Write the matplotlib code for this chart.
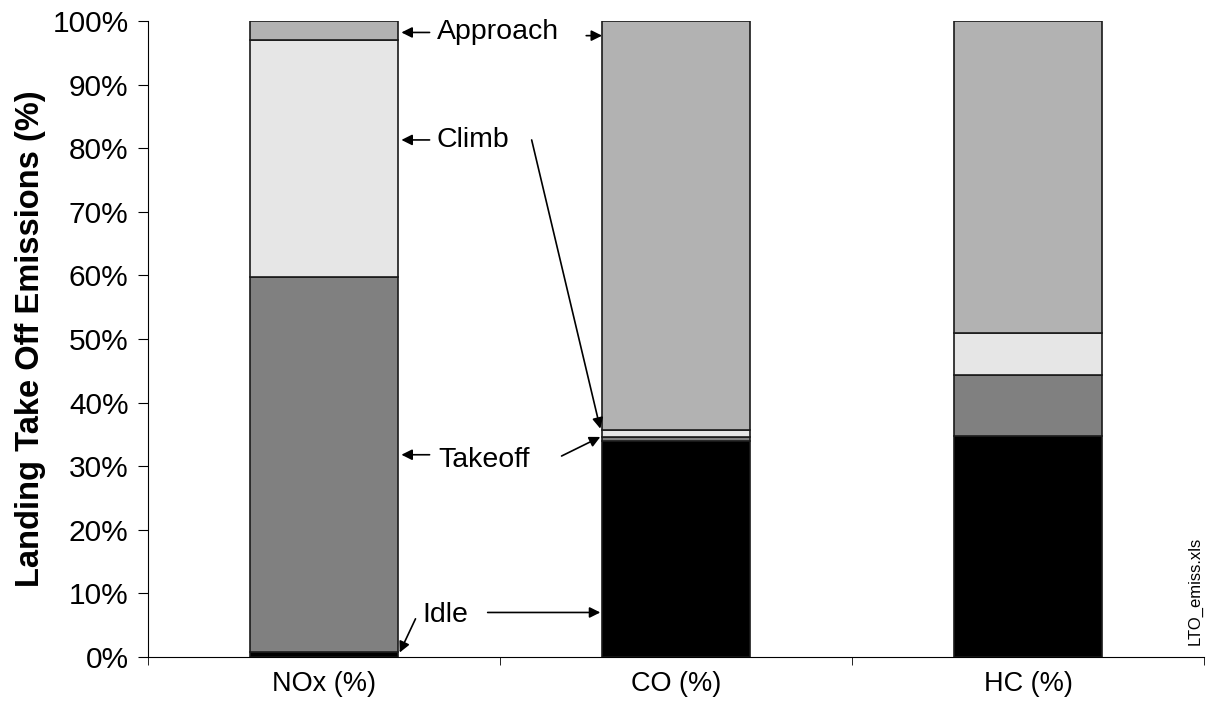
import matplotlib
matplotlib.use("Agg")
import matplotlib.pyplot as plt
import numpy as np

plt.rcParams['font.family'] = ['Liberation Sans', 'DejaVu Sans']

categories = ["NOx (%)", "CO (%)", "HC (%)"]
modes = ["Idle", "Takeoff", "Climb", "Approach"]
idle = [0.8, 34.0, 34.7]
takeoff = [58.9, 0.6, 9.6]
climb = [37.3, 1.1, 6.7]
approach = [3.0, 64.3, 49.0]
colors = ["#000000", "#808080", "#e6e6e6", "#b2b2b2"]
yticks = np.arange(0, 101, 10)

fig = plt.figure(figsize=(12.07, 7.17), dpi=100)
ax = fig.add_axes([0.1226, 0.0837, 0.8749, 0.887])

x = np.arange(len(categories))
bottom = np.zeros(len(categories))
for vals, c in zip([idle, takeoff, climb, approach], colors):
    ax.bar(x, vals, width=0.42, bottom=bottom, color=c, edgecolor="#1a1a1a", linewidth=1.2)
    bottom += np.array(vals)

ax.set_xlim(-0.5, 2.5)
ax.set_ylim(0, 100)
ax.set_yticks(yticks)
ax.set_yticklabels([f"{v}%" for v in yticks], fontsize=21.5)
ax.set_xticks(x)
ax.set_xticklabels(categories, fontsize=19.5)
ax.set_xticks([-0.5, 0.5, 1.5, 2.5], minor=True)
ax.tick_params(axis='x', which='major', length=0, pad=10)
ax.tick_params(axis='x', which='minor', length=6, direction='out')
ax.tick_params(axis='y', length=7, direction='out', pad=7)
ax.spines['top'].set_visible(False)
ax.spines['right'].set_visible(False)
ax.set_ylabel("Landing Take Off Emissions (%)", fontsize=23.5, fontweight='bold')
ax.yaxis.set_label_coords(-0.097, 0.5)

arrow = dict(arrowstyle="-|>", color="black", lw=1.2, mutation_scale=16, shrinkA=0, shrinkB=0)
xr = 0.21  # bar half width
# labels with arrows to NOx bar
ax.annotate("", xy=(xr + 0.01, 98.2), xytext=(0.3, 98.2), arrowprops=arrow)
ax.text(0.32, 98.2, "Approach", fontsize=20.5, va='center')
ax.annotate("", xy=(1 - xr, 97.7), xytext=(0.955 - xr, 97.7), arrowprops=arrow)

ax.annotate("", xy=(xr + 0.01, 81.3), xytext=(0.3, 81.3), arrowprops=arrow)
ax.text(0.32, 81.3, "Climb", fontsize=20.5, va='center')
ax.annotate("", xy=(1 - xr - 0.005, 35.9), xytext=(0.59, 81.3), arrowprops=arrow)

ax.annotate("", xy=(xr + 0.01, 31.8), xytext=(0.3, 31.8), arrowprops=arrow)
ax.text(0.325, 31.0, "Takeoff", fontsize=20.5, va='center')
ax.annotate("", xy=(1 - xr - 0.005, 34.6), xytext=(0.675, 31.6), arrowprops=arrow)

ax.annotate("", xy=(xr + 0.005, 0.7), xytext=(0.26, 6.0), arrowprops=arrow)
ax.text(0.28, 6.6, "Idle", fontsize=20.5, va='center')
ax.annotate("", xy=(1 - xr - 0.005, 7.0), xytext=(0.465, 7.0), arrowprops=arrow)

fig.text(0.9905, 0.10, "LTO_emiss.xls", rotation=90, fontsize=12, ha='center', va='bottom')

fig.savefig("out.png", dpi=100)
